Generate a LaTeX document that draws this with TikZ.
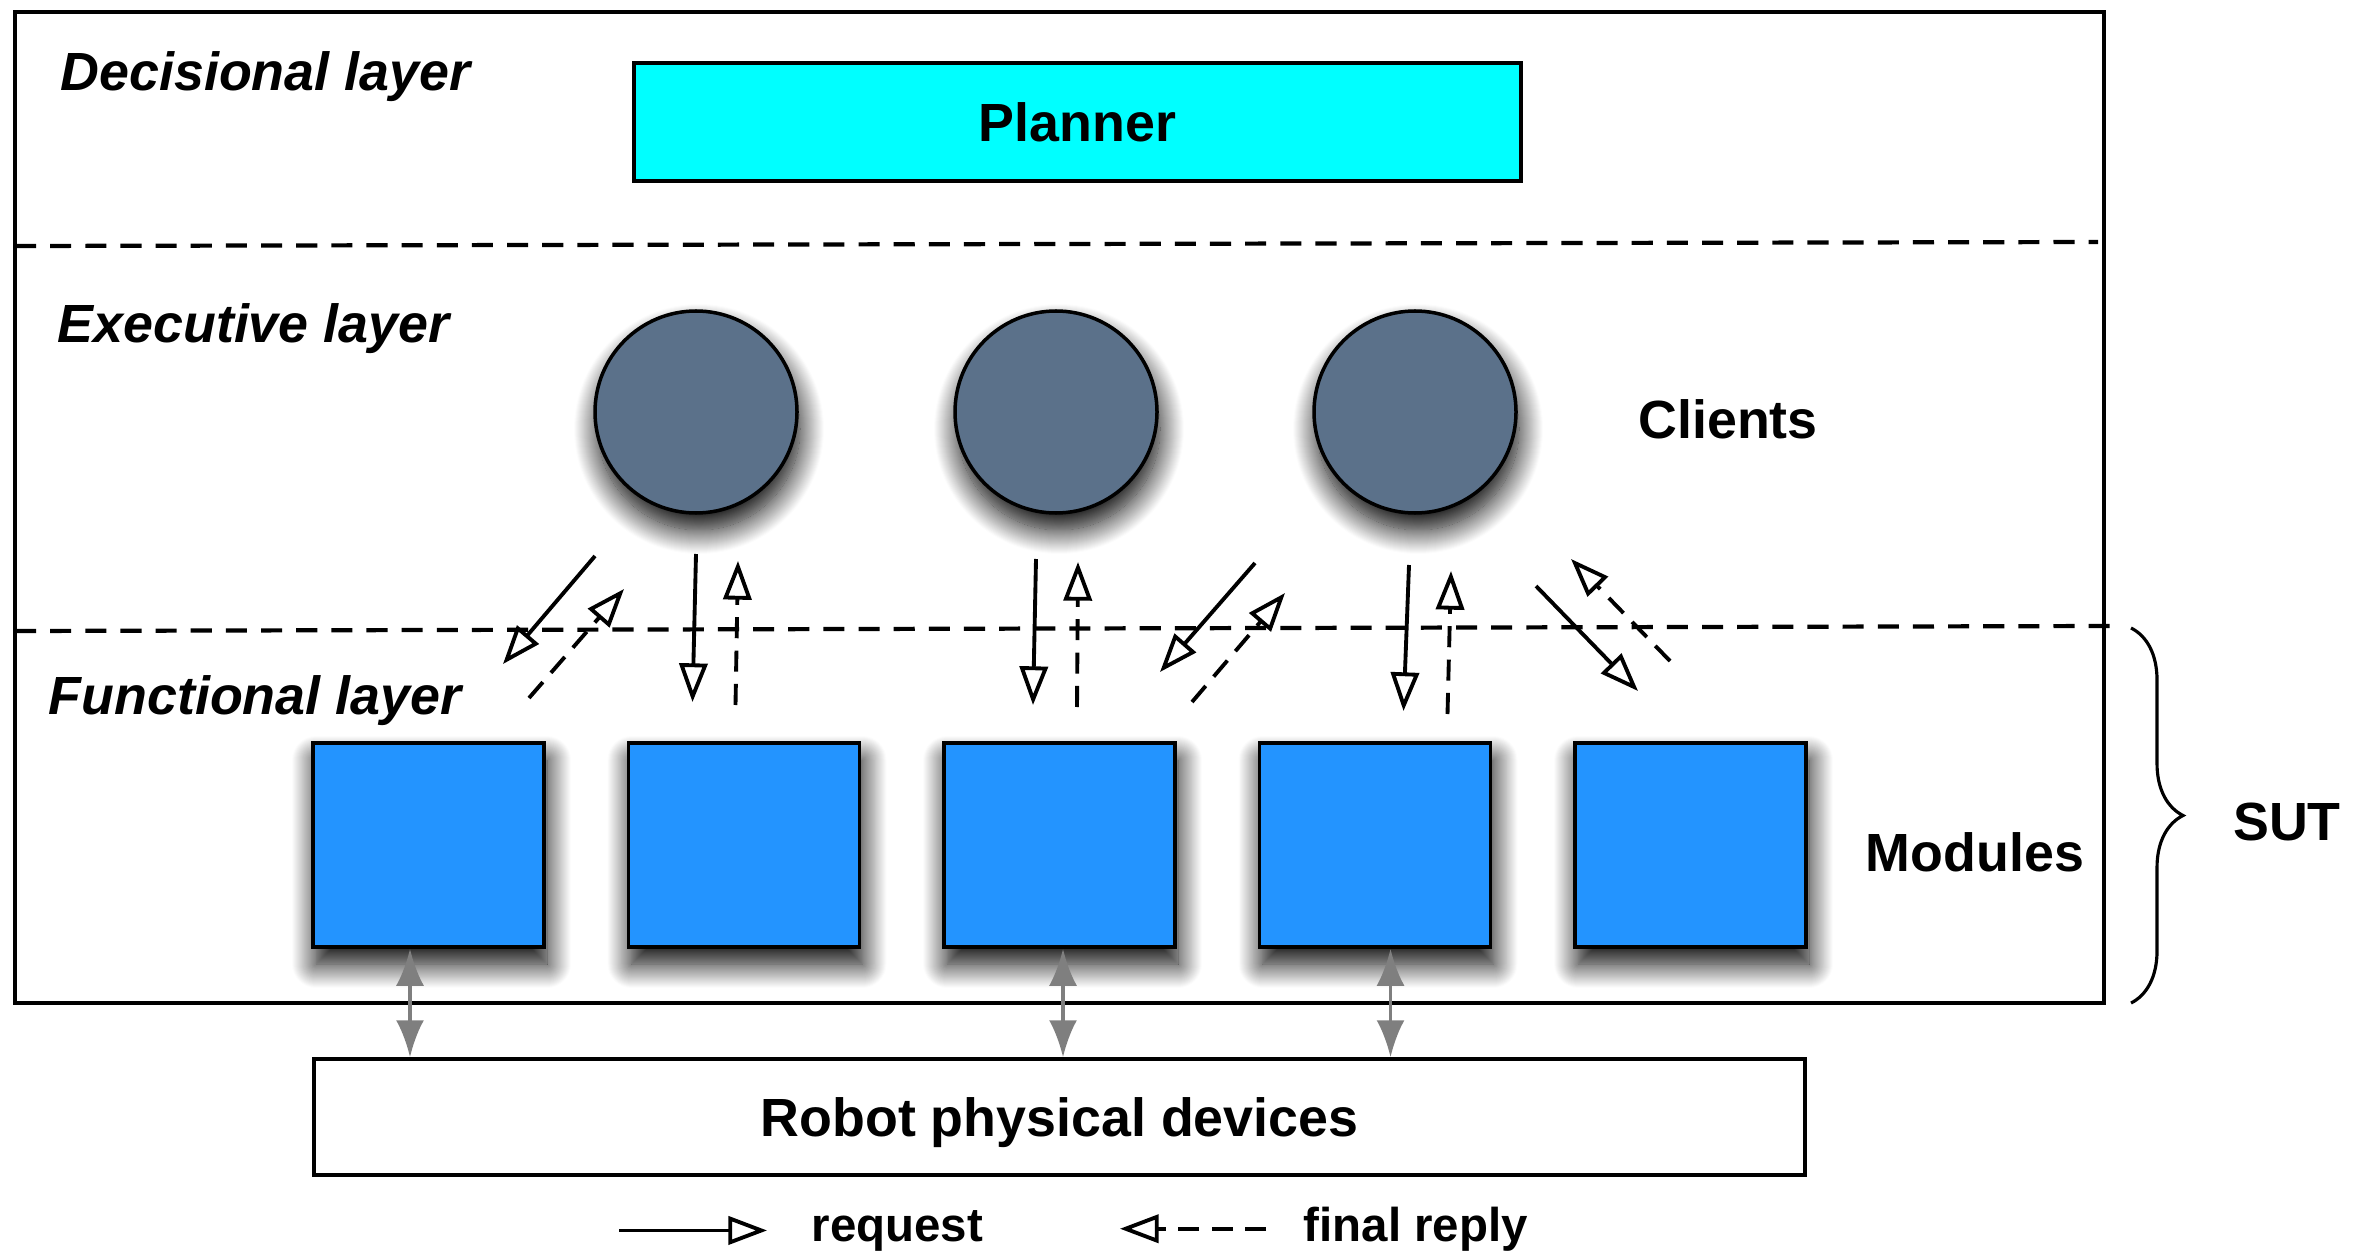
\documentclass[tikz,border=0pt]{standalone}
\usepackage{fontspec}
\setmainfont{Liberation Sans}
\usetikzlibrary{arrows.meta,positioning,shadows.blur,decorations.pathreplacing}
\definecolor{plancyan}{HTML}{00FFFF}
\definecolor{clslate}{HTML}{5B718A}
\definecolor{modblue}{HTML}{2394FF}
\definecolor{iogray}{HTML}{7F7F7F}
\newcommand{\bigf}{\fontsize{15.3}{18}\selectfont\bfseries}

\begin{document}
\begin{tikzpicture}[
  shd/.style={blur shadow={shadow xshift=0.3mm,shadow yshift=-1.7mm,shadow blur radius=2.4mm,shadow blur steps=25,shadow opacity=100}},
  cl/.style={circle,draw,line width=1pt,fill=clslate,minimum size=20.2mm,inner sep=0pt,shd},
  md/.style={draw,line width=1pt,fill=modblue,minimum width=23.1mm,minimum height=20.4mm,inner sep=0pt,shd},
  pl/.style={draw,line width=1pt,fill=plancyan,minimum width=88.7mm,minimum height=11.8mm,font=\bigf},
  rb/.style={draw,line width=1pt,fill=white,minimum width=149.1mm,minimum height=11.6mm,text depth=0pt,font=\bigf},
  lay/.style={anchor=base west,inner sep=0pt,font=\bigf\itshape},
  txt/.style={anchor=base,inner sep=0pt,font=\bigf},
  lg/.style={anchor=base west,inner sep=0pt,font=\fontsize{13.5}{16}\selectfont\bfseries},
  layline/.style={line width=1.2pt,dash pattern=on 6pt off 4pt},
  req/.style={-{Triangle[open,length=11pt,width=8pt]},line width=1.1pt},
  rep/.style={-{Triangle[open,length=11pt,width=8pt]},line width=1.1pt,dash pattern=on 6pt off 3.5pt},
  io/.style={{Latex[length=3.7mm,width=2.8mm]}-{Latex[length=3.7mm,width=2.8mm]},draw=iogray,line width=1.1pt}]
  \useasboundingbox (0,0) rectangle (23.68,12.55);
  % system frame and layer borders
  \draw[line width=0.9pt] (0.15,2.52) rectangle (21.04,12.43);
  \draw[layline] (0.15,10.09) -- (20.98,10.13);
  \draw[layline] (0.15,6.24) -- (21.10,6.29);
  \node[lay] (ldec) at (0.60,11.64) {Decisional layer};
  \node[lay] (lexe) at (0.57,9.12) {Executive layer};
  \node[lay] (lfun) at (0.48,5.41) {Functional layer};
  % decisional: planner
  \node[pl] (planner) at (10.775,11.33) {Planner};
  % executive: clients
  \foreach \i/\x in {1/6.96,2/10.56,3/14.15}
    \node[cl] (c\i) at (\x,8.43) {};
  \node[txt] (clients) at (17.28,8.17) {Clients};
  % functional: modules
  \foreach \i in {1,...,5}
    \node[md] (m\i) at ({4.285+3.155*(\i-1)},4.10) {};
  \node[txt] (modules) at (19.75,3.84) {Modules};
  \node[rb] (robot) at (10.595,1.38) {Robot physical devices};
  % client 1
  \draw[req] ([shift={(-1.01,-1.44)}]c1.center) -- ([shift={(0.745,1.81)}]m1.center);
  \draw[rep] ([shift={(1.005,1.47)}]m1.center) -- ([shift={(-0.72,-1.77)}]c1.center);
  \draw[req] ([shift={(0,-1.42)}]c1.center) -- ([shift={(-0.515,1.43)}]m2.center);
  \draw[rep] ([shift={(-0.085,1.40)}]m2.center) -- ([shift={(0.42,-1.49)}]c1.center);
  % client 2
  \draw[req] ([shift={(-0.20,-1.47)}]c2.center) -- ([shift={(-0.265,1.40)}]m3.center);
  \draw[rep] ([shift={(0.175,1.38)}]m3.center) -- ([shift={(0.22,-1.50)}]c2.center);
  \draw[req] ([shift={(1.99,-1.51)}]c2.center) -- ([shift={(1.005,1.73)}]m3.center);
  \draw[rep] ([shift={(1.325,1.43)}]m3.center) -- ([shift={(2.29,-1.81)}]c2.center);
  % client 3
  \draw[req] ([shift={(-0.06,-1.53)}]c3.center) -- ([shift={(0.285,1.34)}]m4.center);
  \draw[rep] ([shift={(0.725,1.31)}]m4.center) -- ([shift={(0.36,-1.59)}]c3.center);
  \draw[req] ([shift={(1.21,-1.74)}]c3.center) -- ([shift={(-0.525,1.54)}]m5.center);
  \draw[rep] ([shift={(-0.205,1.84)}]m5.center) -- ([shift={(1.56,-1.47)}]c3.center);
  % modules <-> devices
  \draw[io] ([xshift=-1.85mm]m1.south) -- ([xshift=-1.85mm]m1.south |- robot.north);
  \draw[io] ([xshift=0.35mm]m3.south) -- ([xshift=0.35mm]m3.south |- robot.north);
  \draw[io] ([xshift=1.55mm]m4.south) -- ([xshift=1.55mm]m4.south |- robot.north);
  % SUT brace
  \coordinate (suttop) at (21.31,6.27);
  \coordinate (sutbot) at (21.31,2.52);
  \draw[line width=0.9pt,decorate,decoration={brace,amplitude=5.2mm}] (suttop) -- (sutbot);
  \node[txt] (sut) at (22.87,4.15) {SUT};
  % legend
  \node[lg] (lreq) at (8.11,0.14) {request};
  \node[lg] (lrep) at (13.03,0.14) {final reply};
  \draw[req] ([xshift=-19.2mm]lreq.west) -- ([xshift=-4.4mm]lreq.west);
  \draw[rep] ([xshift=-3.7mm]lrep.west) -- ([xshift=-18.3mm]lrep.west);
\end{tikzpicture}
\end{document}
